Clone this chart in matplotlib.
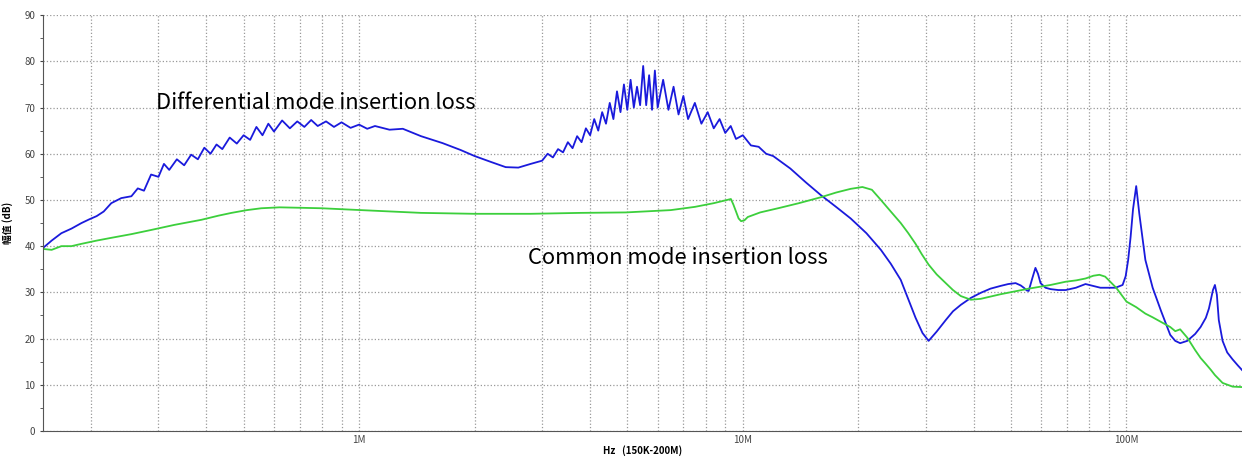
import matplotlib.pyplot as plt
from matplotlib.ticker import FixedLocator, NullFormatter, MultipleLocator

plt.rcParams['font.family'] = ['Noto Sans CJK SC', 'DejaVu Sans']

# frequencies in MHz, insertion loss in dB
dm_freq = [0.15, 0.158, 0.1675, 0.178, 0.189, 0.198, 0.207, 0.216, 0.226, 0.24,
           0.255, 0.265, 0.275, 0.287, 0.30, 0.31, 0.32, 0.335, 0.35, 0.365,
           0.38, 0.395, 0.41, 0.425, 0.44, 0.46, 0.48, 0.50, 0.52, 0.54,
           0.56, 0.58, 0.60, 0.63, 0.66, 0.69, 0.72, 0.75, 0.78, 0.82,
           0.86, 0.90, 0.95, 1.0, 1.05, 1.1, 1.2, 1.3, 1.45, 1.65,
           1.84, 2.0, 2.21, 2.41, 2.6, 2.8, 3.0, 3.1, 3.2, 3.3,
           3.4, 3.5, 3.6, 3.7, 3.8, 3.9, 4.0, 4.1, 4.2, 4.3,
           4.4, 4.5, 4.6, 4.7, 4.8, 4.9, 5.0, 5.1, 5.2, 5.3,
           5.4, 5.5, 5.6, 5.7, 5.8, 5.9, 6.0, 6.2, 6.4, 6.6,
           6.8, 7.0, 7.2, 7.5, 7.8, 8.1, 8.4, 8.7, 9.0, 9.3,
           9.6, 10.0, 10.5, 11.0, 11.5, 12.0, 13.3, 14.6, 16.0, 17.5,
           19.1, 21.0, 22.9, 24.3, 25.8, 27.0, 28.2, 29.4, 30.5, 32.0,
           33.8, 35.3, 37.0, 39.3, 41.7, 44.2, 47.0, 49.2, 51.4, 53.0,
           54.0, 55.0, 55.6, 56.8, 57.9, 58.8, 59.7, 61.5, 63.4, 66.4,
           69.4, 73.8, 78.2, 81.8, 85.5, 89.5, 93.6, 97.7, 99.5, 101,
           102.5, 104, 106, 108, 110, 112, 117, 123, 130, 134,
           138, 144, 151, 156, 161, 164, 166, 168, 170, 172,
           174, 178, 183, 189, 195, 200]
dm_db = [39.6, 41.2, 42.8, 43.8, 45.0, 45.8, 46.5, 47.5, 49.3, 50.4,
         50.8, 52.5, 52.0, 55.5, 55.0, 57.8, 56.5, 58.8, 57.5, 59.8,
         58.8, 61.3, 60.0, 62.0, 61.0, 63.5, 62.2, 64.0, 63.0, 65.8,
         64.0, 66.5, 64.8, 67.2, 65.5, 67.0, 65.8, 67.3, 66.0, 67.0,
         65.8, 66.8, 65.6, 66.3, 65.4, 66.0, 65.2, 65.4, 63.8, 62.3,
         60.8, 59.5, 58.2, 57.1, 57.0, 57.8, 58.5, 60.0, 59.2, 61.0,
         60.3, 62.5, 61.2, 63.8, 62.5, 65.5, 64.0, 67.5, 65.0, 69.0,
         66.5, 71.0, 67.5, 73.5, 69.0, 75.0, 69.5, 76.0, 70.0, 74.5,
         70.5, 79.0, 70.5, 77.0, 69.5, 78.0, 70.0, 76.0, 69.5, 74.5,
         68.5, 72.5, 67.5, 71.0, 66.5, 69.0, 65.5, 67.5, 64.5, 66.0,
         63.2, 64.0, 61.8, 61.5, 60.0, 59.5, 56.8, 53.8, 51.0, 48.5,
         46.0, 42.8, 39.2, 36.2, 32.7, 28.5, 24.5, 21.2, 19.5, 21.5,
         24.0, 25.9, 27.3, 28.8, 29.9, 30.8, 31.4, 31.8, 32.0, 31.5,
         31.0, 30.4, 30.3, 33.0, 35.3, 34.0, 32.0, 31.0, 30.7, 30.5,
         30.5, 31.0, 31.8, 31.4, 31.0, 31.0, 31.0, 31.6, 33.5, 37.0,
         42.0, 48.0, 53.0, 47.0, 42.0, 37.0, 31.0, 26.0, 20.8, 19.5,
         19.0, 19.5, 21.0, 22.5, 24.5, 26.5, 28.5, 30.5, 31.6, 29.5,
         24.0, 19.5, 17.0, 15.5, 14.2, 13.2]

cm_freq = [0.15, 0.158, 0.1675, 0.178, 0.189, 0.207, 0.226, 0.255, 0.287, 0.33,
           0.388, 0.43, 0.465, 0.51, 0.556, 0.62, 0.706, 0.80, 0.898, 1.14,
           1.45, 2.0, 2.8, 3.78, 4.96, 6.49, 7.5, 8.4, 9.1, 9.31,
           9.45, 9.6, 9.75, 9.9, 10.1, 10.3, 11.1, 12.5, 14.0, 16.0,
           17.5, 19.1, 20.5, 21.7, 22.9, 24.3, 25.8, 27.0, 28.2, 29.3,
           30.5, 32.0, 33.8, 35.3, 37.0, 39.3, 41.7, 47.0, 55.6, 63.4,
           69.4, 74.0, 78.2, 82.0, 85.0, 88.0, 94.0, 100, 106, 112,
           117, 123, 130, 134, 138, 144, 151, 156, 161, 166,
           170, 178, 189, 200]
cm_db = [39.4, 39.2, 40.0, 40.0, 40.5, 41.2, 41.8, 42.6, 43.5, 44.6,
         45.7, 46.6, 47.2, 47.8, 48.2, 48.4, 48.3, 48.2, 48.0, 47.6,
         47.2, 47.0, 47.0, 47.2, 47.3, 47.8, 48.5, 49.3, 50.0, 50.2,
         49.0, 47.5, 46.0, 45.4, 45.6, 46.3, 47.3, 48.3, 49.3, 50.6,
         51.6, 52.4, 52.8, 52.2, 50.0, 47.5, 45.0, 42.8, 40.5, 38.2,
         36.0, 33.9, 32.0, 30.5, 29.2, 28.4, 28.6, 29.6, 30.8, 31.6,
         32.3, 32.6, 33.0, 33.6, 33.8, 33.4, 31.0, 28.0, 26.8, 25.4,
         24.6, 23.6, 22.5, 21.6, 22.0, 20.2, 17.5, 15.8, 14.5, 13.2,
         12.1, 10.4, 9.6, 9.5]

fig = plt.figure(figsize=(12.42, 4.58), dpi=100)
ax = fig.add_axes([0.0346, 0.059, 0.9654, 0.908])

ax.plot(dm_freq, dm_db, color='#1a1adc', lw=1.3)
ax.plot(cm_freq, cm_db, color='#3ccf3c', lw=1.3)

ax.set_xscale('log')
ax.set_xlim(0.15, 200)
ax.set_ylim(0, 90)

major = [1, 10, 100]
minor = [m * 10.0 ** e for e in (-1, 0, 1, 2) for m in range(2, 10) if 0.15 < m * 10.0 ** e < 200]
ax.xaxis.set_major_locator(FixedLocator(major))
ax.set_xticklabels(['1M', '10M', '100M'])
ax.xaxis.set_minor_locator(FixedLocator(minor))
ax.xaxis.set_minor_formatter(NullFormatter())
ax.yaxis.set_major_locator(MultipleLocator(10))
ax.yaxis.set_minor_locator(MultipleLocator(5))

ax.grid(True, which='both', axis='x', color='#999999', ls=':', lw=0.9)
ax.grid(True, which='major', axis='y', color='#999999', ls=':', lw=0.9)
ax.tick_params(axis='both', which='both', labelsize=7, colors='#444444', length=2)
ax.tick_params(axis='x', which='both', length=0, pad=3)

for s in ('top', 'right'):
    ax.spines[s].set_visible(False)
for s in ('left', 'bottom'):
    ax.spines[s].set_color('#555555')

ax.set_ylabel('幅值 (dB)', fontsize=7, fontweight='bold', labelpad=8)
ax.set_xlabel('Hz   (150K-200M)', fontsize=7, fontweight='bold', labelpad=0)

ax.text(0.296, 71, 'Differential mode insertion loss', fontsize=15.8, va='center')
ax.text(2.75, 37.4, 'Common mode insertion loss', fontsize=15.8, va='center')

fig.savefig('out.png', dpi=100)
